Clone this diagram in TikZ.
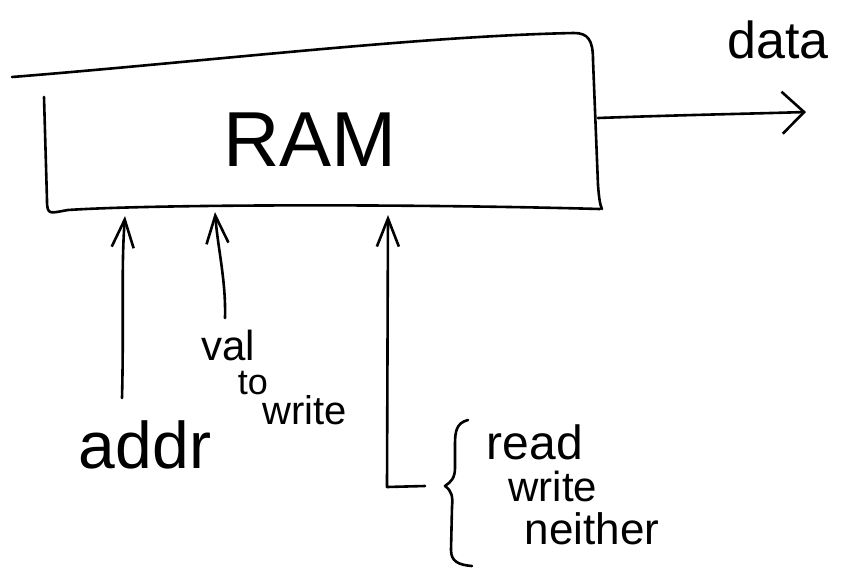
\documentclass[tikz,border=0pt]{standalone}
\usepackage{fontspec}
\setmainfont{Liberation Sans}
\usetikzlibrary{arrows.meta}
\tikzset{
  pen/.style={line width=2.6pt, line cap=round, line join=round},
  headup/.style={-{Straight Barb[length=28pt, width=22pt, line width=2.6pt]}},
  headright/.style={-{Straight Barb[length=22pt, width=42pt, line width=2.6pt]}},
  hand/.style={inner sep=0pt, anchor=center},
}
\begin{document}
\begin{tikzpicture}[x=1pt, y=-1pt]
\useasboundingbox (0,0) rectangle (855,571);

% the memory block, drawn freehand
\node[hand, minimum width=555pt, minimum height=120pt] (ram) at (322,150) {};
\node[hand, font=\fontsize{78}{78}\selectfont] (ramlbl) at (310,140) {RAM};
\draw[pen] (12,77) .. controls (200,62) and (420,36) .. (574,33)
  .. controls (588,33) and (593,40) .. (593,60) -- (598,185)
  .. controls (599,198) and (600,205) .. (602,209);
\draw[pen] (600,209) .. controls (420,204) and (160,204) .. (68,210)
  .. controls (50,213) and (47,216) .. (47,200) -- (44,97);

% output
\coordinate (ramout) at (598,118);
\node[hand, font=\fontsize{52}{52}\selectfont] (data) at (778,40) {data};
\coordinate (dataend) at (806,112);
\draw[pen, headright] (ramout) .. controls (680,115) and (740,114) .. (dataend);

% inputs
\node[hand, font=\fontsize{66}{66}\selectfont] (addr) at (145,445) {addr};
\coordinate (addrtip) at (125,216);
\draw[pen, headup] (122,398) .. controls (124,320) and (121,270) .. (addrtip);

\node[hand, font=\fontsize{42}{42}\selectfont] (val) at (228,345) {val};
\node[hand, font=\fontsize{36}{36}\selectfont] (to) at (253,383) {to};
\node[hand, font=\fontsize{40}{40}\selectfont] (write) at (305,410) {write};
\coordinate (valtip) at (215,212);
\draw[pen, headup] (225,318) .. controls (226,280) and (218,250) .. (valtip);

% operation select
\node[hand, font=\fontsize{48}{48}\selectfont] (op1) at (535,442) {read};
\node[hand, font=\fontsize{42}{42}\selectfont] (op2) at (553,486) {write};
\node[hand, font=\fontsize{44}{44}\selectfont] (op3) at (592,529) {neither};
\coordinate (optip) at (388,215);
\coordinate (opbend) at (387,487);
\coordinate (opstart) at (425,486);
\draw[pen, headup] (opstart) -- (opbend) -- (optip);
\draw[pen] (468,420) .. controls (456,423) and (455,432) .. (455,445)
  -- (455,468) .. controls (455,478) and (451,482) .. (445,486)
  .. controls (452,491) and (453,497) .. (452,507)
  -- (451,550) .. controls (451,561) and (458,565) .. (472,566);
\end{tikzpicture}
\end{document}
